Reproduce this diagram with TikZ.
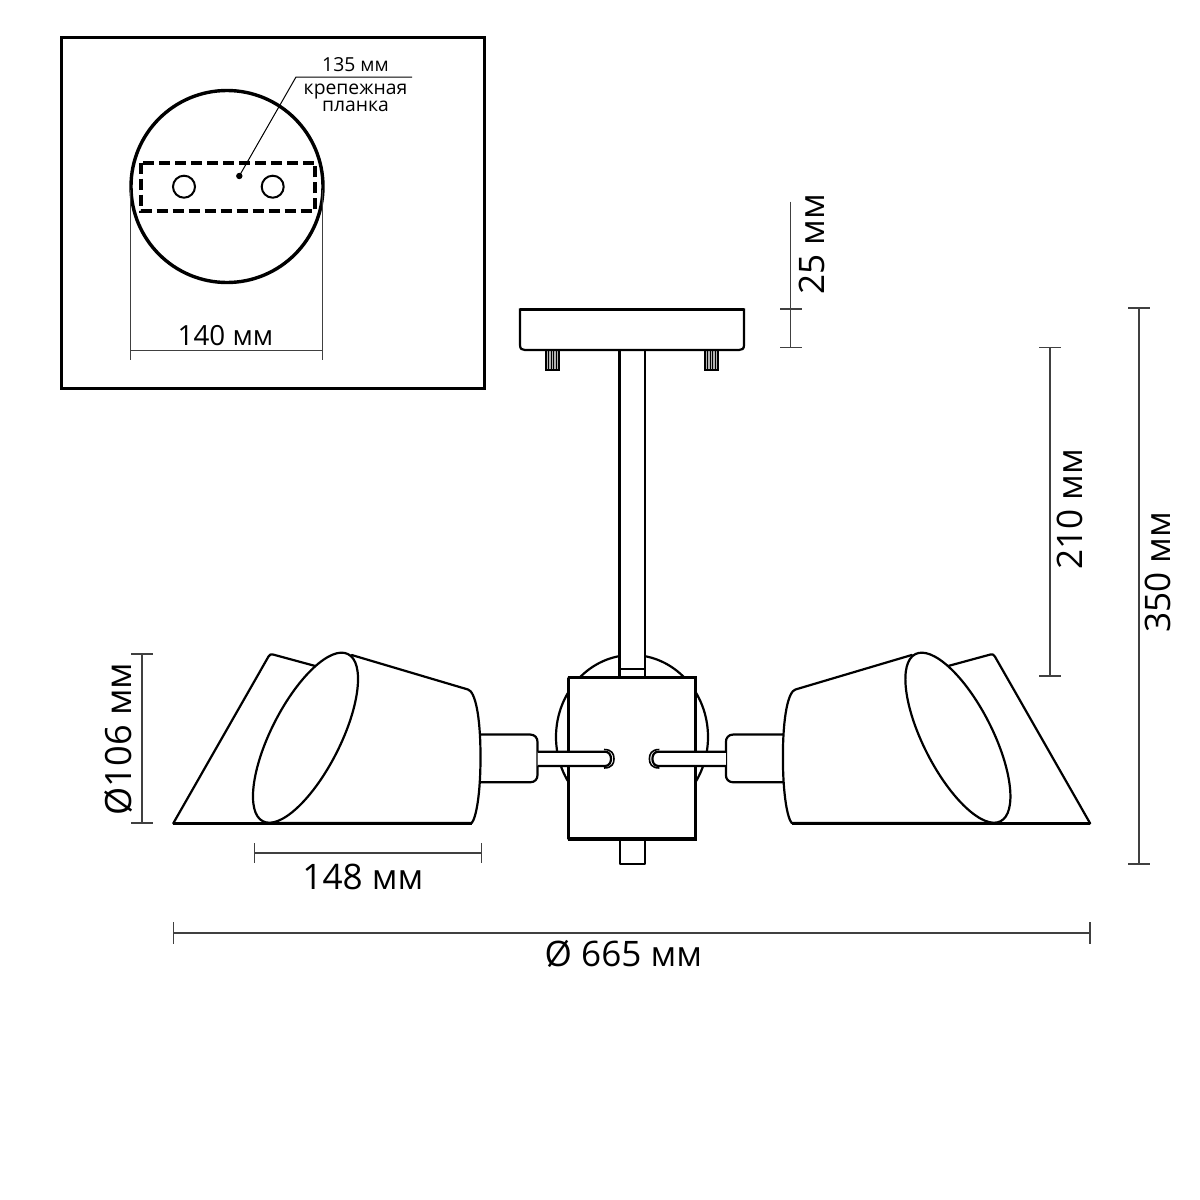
\documentclass[tikz,border=0pt]{standalone}
\usepackage{fontspec}
\setmainfont{Open Sans}
\tikzset{
  px/.style={line width=#1*0.02cm},
  dimline/.style={px=1.1,draw=black!75},
  part/.style={px=2.2,draw=black,fill=white,line join=round},
  big/.style={inner sep=0pt,font=\fontsize{20}{20}\selectfont},
  mid/.style={inner sep=0pt,font=\fontsize{15.8}{15.8}\selectfont},
  small/.style={inner sep=0pt,font=\fontsize{11}{11}\selectfont},
}
\newcommand{\lampside}{%
  \draw[part] (173.3,823.3) -- (268.5,656.5) .. controls (269.5,654.5) and (271,654) .. (273,654.5) -- (330,670) -- (330,823.3) -- cycle;
  \draw[part] (470,734.5) -- (530,734.5) .. controls (535,734.5) and (537.5,738) .. (537.5,742) -- (537.5,775) .. controls (537.5,779) and (535,782.3) .. (530,782.3) -- (470,782.3) -- cycle;
  \draw[part] (351.7,655) -- (468,689.5) .. controls (475,691.5) and (480.5,715) .. (480.5,757) .. controls (480.5,795) and (476,818) .. (471.7,823) -- (268,823) -- cycle;
  \draw[part,shift={(305.5,737.7)},rotate=63] (0,0) ellipse [x radius=93.8,y radius=34.5];
  \draw[px=2.6] (173.3,823.3) -- (471.7,823.3);
  \draw[part] (537.5,751.7) -- (605,751.7) .. controls (609,751.7) and (611,755) .. (611,758.8) .. controls (611,762.5) and (609,766) .. (605,766) -- (537.5,766);
  \draw[px=1.6] (604,749.5) .. controls (612,749.5) and (614,754) .. (614,758.8) .. controls (614,763.5) and (612,768) .. (604,768);
}
\newcommand{\pin}[1]{%
  \draw[px=1.2,fill=black!30] (#1,350) rectangle ++(13,20);
  \foreach \d in {2.6,5.2,7.8,10.4} \draw[px=1.2] (#1+\d,350) -- (#1+\d,370);
}
\begin{document}
\begin{tikzpicture}[x=0.02cm,y=-0.02cm]
\useasboundingbox (0,0) rectangle (1200,1200);
\fill[white] (0,0) rectangle (1200,1200);
\draw[px=3] (61,37.5) rectangle (484,388.5);
\draw[px=3.4] (227,186.5) circle [radius=96];
\draw[px=3.6,dash pattern=on 0.22cm off 0.1cm] (141,162.7) rectangle (315,211);
\draw[px=2] (184,186.7) circle [radius=11];
\draw[px=2] (272.7,186.7) circle [radius=11];
\fill (239.3,176) circle [radius=3.2];
\coordinate (dot) at (239.3,176);
\coordinate (elbow) at (296,77);
\coordinate (lend) at (412,77);
\draw[px=1] (dot) -- (elbow) -- (lend);
\draw[dimline,px=1] (130.5,190) -- (130.5,360);
\draw[dimline,px=1] (322.5,190) -- (322.5,360);
\draw[dimline,px=1] (130.5,350) -- (322.5,350);
\node[small] (t135) at (355.5,64.5) {135 мм};
\node[small] (tk) at (355.5,92) {крепежная};
\node[small] (tp) at (355.5,106.5) {планка};
\node[mid] (t140) at (225.5,336) {140 мм};
\draw[part] (632,737) ellipse [x radius=76,y radius=82];
\draw[part] (619.5,345) rectangle (645,682);
\draw[px=1.8] (619.5,669) -- (645,669);
\pin{546}\pin{705}
\draw[part,line join=miter] (520,309.5) -- (744,309.5) -- (744,345) .. controls (744,349) and (742,350) .. (739,350) -- (525,350) .. controls (522,350) and (520,349) .. (520,345) -- cycle;
\draw[px=2.6] (520,309.5) -- (744,309.5);
\draw[part] (620,835) rectangle (644.7,864.3);
\draw[part] (568.5,677.7) rectangle (695.5,839);
\draw[px=3.4] (567.5,677.7) -- (696.5,677.7);
\draw[px=3.6] (567.5,839) -- (696.5,839);
\lampside
\begin{scope}[shift={(1263.4,0)},xscale=-1]
\lampside
\end{scope}
\draw[dimline] (790.7,201.5) -- (790.7,347.5);
\draw[dimline] (780,309) -- (802,309);
\draw[dimline] (780,347.5) -- (802,347.5);
\node[big,rotate=90] (t25) at (812,244) {25 мм};
\draw[dimline] (1050,347.5) -- (1050,676);
\draw[dimline] (1039,347.5) -- (1061,347.5);
\draw[dimline] (1039,676) -- (1061,676);
\node[big,rotate=90] (t210) at (1070,509) {210 мм};
\draw[dimline] (1139,308) -- (1139,864);
\draw[dimline] (1128,308) -- (1150,308);
\draw[dimline] (1128,864) -- (1150,864);
\node[big,rotate=90] (t350) at (1158,572) {350 мм};
\draw[dimline] (142,654) -- (142,823);
\draw[dimline] (131,654) -- (153,654);
\draw[dimline] (131,823) -- (153,823);
\node[big,rotate=90,font=\fontsize{20.6}{20.6}\selectfont] (t106) at (119,739) {Ø106 мм};
\draw[dimline] (254.5,853) -- (481.5,853);
\draw[dimline] (254.5,843) -- (254.5,863);
\draw[dimline] (481.5,843) -- (481.5,863);
\node[big] (t148) at (363,877) {148 мм};
\draw[dimline] (173.5,933) -- (1090,933);
\draw[dimline] (173.5,922) -- (173.5,944);
\draw[dimline] (1090,922) -- (1090,944);
\node[big] (t665) at (623.5,954) {Ø 665 мм};
\end{tikzpicture}
\end{document}
